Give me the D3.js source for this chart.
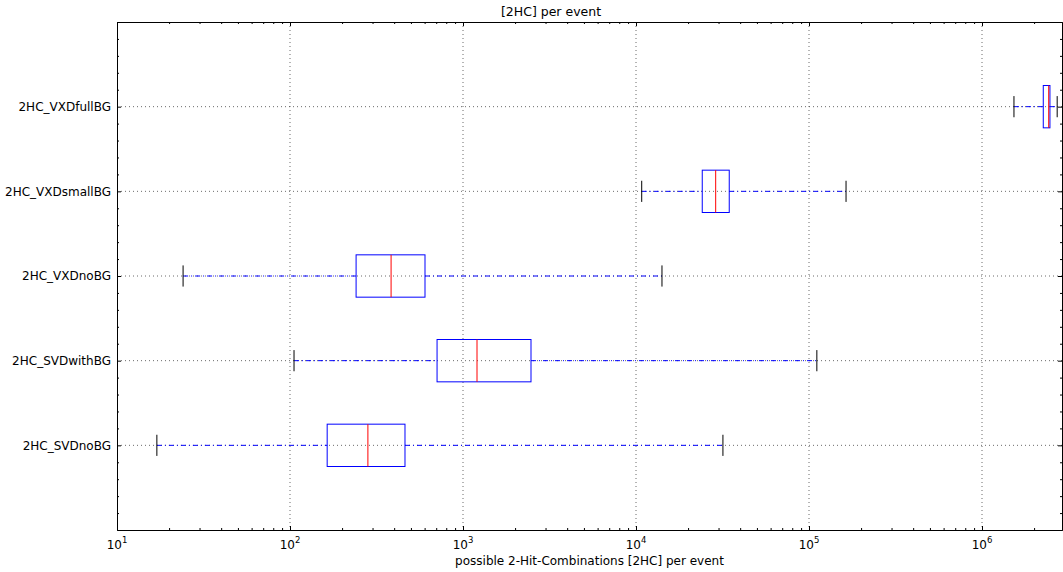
<!DOCTYPE html>
<html>
<head>
<meta charset="utf-8">
<script src="https://cdn.jsdelivr.net/npm/d3@7"></script>
<style>
  body { margin: 0; background: #fff; }
  svg { font-family: "DejaVu Sans", sans-serif; }
  .axis path, .axis line { stroke: #000; }
</style>
</head>
<body>
<svg id="chart" width="1063" height="572"></svg>
<script>
const categories = ["2HC_SVDnoBG", "2HC_SVDwithBG", "2HC_VXDnoBG", "2HC_VXDsmallBG", "2HC_VXDfullBG"];
const whiskerLow = [17.0, 105.5, 24.1, 10790, 1.53e6];
const q1 = [164, 708, 241, 24150, 2.26e6];
const median = [282, 1205, 384, 28880, 2.43e6];
const q3 = [462, 2472, 603, 34590, 2.47e6];
const whiskerHigh = [31800, 111000, 14130, 163700, 2.72e6];
const xMajorTicks = [1e1, 1e2, 1e3, 1e4, 1e5, 1e6];
const xExponents = [1, 2, 3, 4, 5, 6];

const margin = { left: 117, right: 1062, top: 22, bottom: 530 };
const svg = d3.select("#chart");

const x = d3.scaleLog().domain([10, 2.9e6]).range([margin.left, margin.right]);
const y = d3.scaleLinear().domain([0, 6]).range([margin.bottom, margin.top]);

const boxes = categories.map((c, i) => ({
  name: c, pos: i + 1,
  lo: whiskerLow[i], q1: q1[i], med: median[i], q3: q3[i], hi: whiskerHigh[i],
}));

// minor ticks for log axis
const xMinor = [];
for (let e = 1; e <= 6; e++) {
  for (let m = 2; m <= 9; m++) {
    const v = m * Math.pow(10, e);
    if (v <= x.domain()[1]) xMinor.push(v);
  }
}
const yMinor = d3.range(0, 6.001, 0.2).filter((v) => Math.abs(v - Math.round(v)) > 1e-6);

// grid
const grid = svg.append("g")
  .attr("stroke", "#444")
  .attr("stroke-width", 0.8)
  .attr("stroke-dasharray", "1,3");
grid.selectAll("line.vx")
  .data(xMajorTicks.slice(1))
  .join("line")
  .attr("x1", (d) => x(d)).attr("x2", (d) => x(d))
  .attr("y1", margin.top).attr("y2", margin.bottom);
grid.selectAll("line.hy")
  .data(boxes)
  .join("line")
  .attr("x1", margin.left).attr("x2", margin.right)
  .attr("y1", (d) => y(d.pos)).attr("y2", (d) => y(d.pos));

// boxes
const halfBox = (y(0) - y(0.25));
const halfCap = (y(0) - y(0.125));
const g = svg.append("g").selectAll("g").data(boxes).join("g");

g.append("line")
  .attr("x1", (d) => x(d.lo)).attr("x2", (d) => x(d.q1))
  .attr("y1", (d) => y(d.pos)).attr("y2", (d) => y(d.pos))
  .attr("stroke", "blue").attr("stroke-dasharray", "5,3,1,3");
g.append("line")
  .attr("x1", (d) => x(d.q3)).attr("x2", (d) => x(d.hi))
  .attr("y1", (d) => y(d.pos)).attr("y2", (d) => y(d.pos))
  .attr("stroke", "blue").attr("stroke-dasharray", "5,3,1,3");

g.selectAll("line.cap")
  .data((d) => [d.lo, d.hi].map((v) => ({ v, pos: d.pos })))
  .join("line")
  .attr("x1", (d) => x(d.v)).attr("x2", (d) => x(d.v))
  .attr("y1", (d) => y(d.pos) - halfCap).attr("y2", (d) => y(d.pos) + halfCap)
  .attr("stroke", "#000");

g.append("rect")
  .attr("x", (d) => x(d.q1))
  .attr("y", (d) => y(d.pos) - halfBox)
  .attr("width", (d) => x(d.q3) - x(d.q1))
  .attr("height", halfBox * 2)
  .attr("fill", "none")
  .attr("stroke", "blue");

g.append("line")
  .attr("x1", (d) => x(d.med)).attr("x2", (d) => x(d.med))
  .attr("y1", (d) => y(d.pos) - halfBox).attr("y2", (d) => y(d.pos) + halfBox)
  .attr("stroke", "red");

// axes (inward ticks)
const noLabel = () => "";
svg.append("g").attr("class", "axis")
  .attr("transform", `translate(0,${margin.bottom})`)
  .call(d3.axisBottom(x).tickValues(xMajorTicks).tickSize(-4).tickFormat(noLabel));
svg.append("g").attr("class", "axis")
  .attr("transform", `translate(0,${margin.bottom})`)
  .call(d3.axisBottom(x).tickValues(xMinor).tickSize(-2).tickFormat(noLabel))
  .select(".domain").remove();
svg.append("g").attr("class", "axis")
  .attr("transform", `translate(0,${margin.top})`)
  .call(d3.axisTop(x).tickValues(xMajorTicks).tickSize(-4).tickFormat(noLabel));
svg.append("g").attr("class", "axis")
  .attr("transform", `translate(0,${margin.top})`)
  .call(d3.axisTop(x).tickValues(xMinor).tickSize(-2).tickFormat(noLabel))
  .select(".domain").remove();

svg.append("g").attr("class", "axis")
  .attr("transform", `translate(${margin.left},0)`)
  .call(d3.axisLeft(y).tickValues(boxes.map((d) => d.pos)).tickSize(-4).tickFormat(noLabel));
svg.append("g").attr("class", "axis")
  .attr("transform", `translate(${margin.left},0)`)
  .call(d3.axisLeft(y).tickValues(yMinor).tickSize(-2).tickFormat(noLabel))
  .select(".domain").remove();
svg.append("g").attr("class", "axis")
  .attr("transform", `translate(${margin.right},0)`)
  .call(d3.axisRight(y).tickValues(boxes.map((d) => d.pos)).tickSize(-4).tickFormat(noLabel));
svg.append("g").attr("class", "axis")
  .attr("transform", `translate(${margin.right},0)`)
  .call(d3.axisRight(y).tickValues(yMinor).tickSize(-2).tickFormat(noLabel))
  .select(".domain").remove();

svg.selectAll(".axis .domain").attr("stroke-width", 1);

// x tick labels with superscripts
const xl = svg.append("g").attr("font-size", 12).attr("fill", "#000");
xMajorTicks.forEach((t, i) => {
  const txt = xl.append("text")
    .attr("x", x(t))
    .attr("y", margin.bottom + 19)
    .attr("text-anchor", "middle");
  txt.append("tspan").text("10");
  txt.append("tspan").attr("dy", -6).attr("font-size", 8.5).text(xExponents[i]);
});

// category labels
svg.append("g").selectAll("text")
  .data(boxes)
  .join("text")
  .attr("x", margin.left - 6)
  .attr("y", (d) => y(d.pos))
  .attr("dy", "0.35em")
  .attr("text-anchor", "end")
  .attr("font-size", 12)
  .text((d) => d.name);

svg.append("text")
  .attr("x", 551).attr("y", 16)
  .attr("text-anchor", "middle")
  .attr("font-size", 12.5)
  .text("[2HC] per event");

svg.append("text")
  .attr("x", (margin.left + margin.right) / 2).attr("y", 565)
  .attr("text-anchor", "middle")
  .attr("font-size", 12)
  .text("possible 2-Hit-Combinations [2HC] per event");
</script>
</body>
</html>
